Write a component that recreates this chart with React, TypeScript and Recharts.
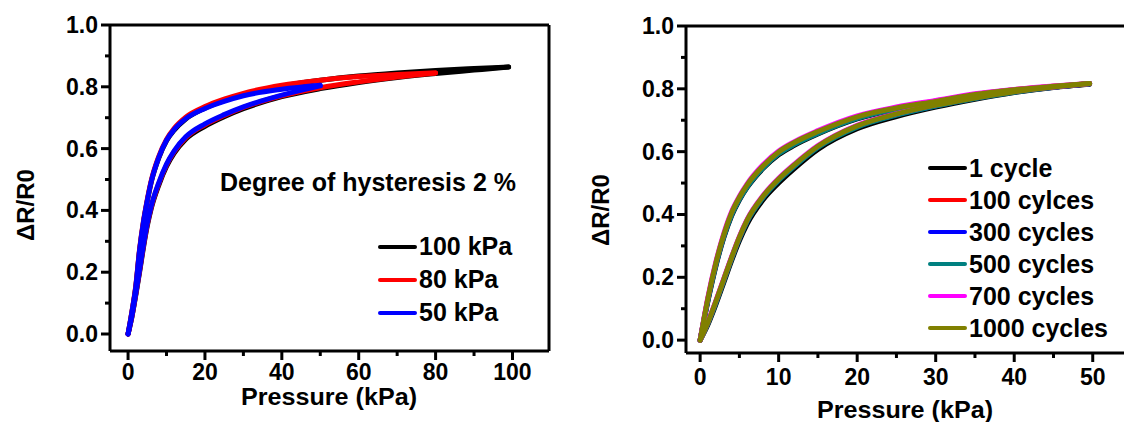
import { LineChart, Line, XAxis, YAxis, ReferenceLine } from 'recharts'

const font = '"Liberation Sans", Arial, sans-serif'

// left panel: loading / unloading loops for three max pressures
const p100 = [0, 1, 2, 3, 4, 5, 6, 8, 10, 12, 15, 20, 25, 30, 40, 50, 60, 70, 80, 90, 99]
const v100Load = [0, 0.055, 0.125, 0.2, 0.28, 0.35, 0.405, 0.482, 0.542, 0.585, 0.63, 0.672, 0.703, 0.729, 0.768, 0.794, 0.814, 0.83, 0.843, 0.854, 0.864]
const v100Unload = [0, 0.07, 0.15, 0.27, 0.36, 0.43, 0.49, 0.57, 0.625, 0.66, 0.696, 0.731, 0.755, 0.775, 0.802, 0.821, 0.835, 0.845, 0.853, 0.859, 0.864]

const p80 = [0, 1, 2, 3, 4, 5, 6, 8, 10, 12, 15, 20, 25, 30, 40, 50, 60, 70, 80]
const v80Load = [0, 0.057, 0.128, 0.205, 0.285, 0.355, 0.41, 0.487, 0.547, 0.59, 0.635, 0.677, 0.707, 0.733, 0.771, 0.797, 0.816, 0.832, 0.845]
const v80Unload = [0, 0.072, 0.155, 0.275, 0.365, 0.435, 0.495, 0.575, 0.63, 0.666, 0.702, 0.736, 0.76, 0.779, 0.805, 0.821, 0.833, 0.84, 0.845]

const p50 = [0, 1, 2, 3, 4, 5, 6, 8, 10, 12, 15, 20, 25, 30, 40, 50]
const v50Load = [0, 0.058, 0.13, 0.208, 0.288, 0.358, 0.413, 0.49, 0.55, 0.593, 0.638, 0.68, 0.71, 0.735, 0.773, 0.803]
const v50Unload = [0, 0.071, 0.152, 0.272, 0.362, 0.432, 0.492, 0.572, 0.627, 0.662, 0.697, 0.73, 0.753, 0.771, 0.792, 0.805]

// right panel: 50 kPa loops after repeated cycling
const pCyc = [0, 1, 2, 3, 4, 5, 6, 8, 10, 12, 15, 20, 25, 30, 35, 40, 45, 49.6]
const c1Load = [0, 0.05, 0.113, 0.182, 0.252, 0.316, 0.37, 0.446, 0.5, 0.546, 0.607, 0.673, 0.712, 0.742, 0.767, 0.788, 0.804, 0.815]
const c1Unload = [0, 0.125, 0.235, 0.325, 0.395, 0.446, 0.486, 0.546, 0.59, 0.62, 0.656, 0.704, 0.734, 0.756, 0.778, 0.794, 0.806, 0.815]
const c100Load = [0, 0.056, 0.122, 0.192, 0.262, 0.327, 0.382, 0.457, 0.512, 0.557, 0.617, 0.682, 0.72, 0.748, 0.772, 0.791, 0.806, 0.816]
const c100Unload = [0, 0.133, 0.243, 0.333, 0.403, 0.453, 0.493, 0.553, 0.598, 0.628, 0.663, 0.711, 0.74, 0.761, 0.782, 0.797, 0.808, 0.816]
const c300Load = [0, 0.055, 0.12, 0.19, 0.26, 0.325, 0.38, 0.455, 0.51, 0.555, 0.615, 0.68, 0.718, 0.746, 0.77, 0.79, 0.805, 0.816]
const c300Unload = [0, 0.13, 0.24, 0.33, 0.4, 0.45, 0.49, 0.55, 0.595, 0.625, 0.66, 0.708, 0.737, 0.758, 0.78, 0.795, 0.807, 0.816]
const c500Load = [0, 0.054, 0.118, 0.188, 0.258, 0.323, 0.378, 0.453, 0.508, 0.553, 0.613, 0.678, 0.716, 0.745, 0.769, 0.789, 0.805, 0.816]
const c500Unload = [0, 0.128, 0.238, 0.328, 0.398, 0.448, 0.488, 0.548, 0.593, 0.623, 0.658, 0.706, 0.736, 0.757, 0.779, 0.795, 0.807, 0.816]
const c700Load = [0, 0.059, 0.125, 0.195, 0.265, 0.33, 0.385, 0.46, 0.515, 0.56, 0.619, 0.684, 0.721, 0.749, 0.773, 0.792, 0.806, 0.817]
const c700Unload = [0, 0.138, 0.249, 0.339, 0.409, 0.458, 0.498, 0.558, 0.602, 0.632, 0.667, 0.714, 0.742, 0.763, 0.784, 0.798, 0.809, 0.817]
const c1000Load = [0, 0.057, 0.123, 0.193, 0.263, 0.328, 0.383, 0.458, 0.513, 0.558, 0.617, 0.682, 0.72, 0.748, 0.771, 0.791, 0.806, 0.817]
const c1000Unload = [0, 0.134, 0.245, 0.335, 0.405, 0.455, 0.495, 0.554, 0.599, 0.629, 0.664, 0.711, 0.739, 0.76, 0.782, 0.797, 0.808, 0.817]

const leftXTicks = [0, 10, 20, 30, 40, 50, 60, 70, 80, 90, 100]
const leftXMajor = [0, 20, 40, 60, 80, 100]
const rightXTicks = [0, 5, 10, 15, 20, 25, 30, 35, 40, 45, 50]
const rightXMajor = [0, 10, 20, 30, 40, 50]
const yTicks = [0, 0.1, 0.2, 0.3, 0.4, 0.5, 0.6, 0.7, 0.8, 0.9, 1.0]

const toPts = (ps: number[], vs: number[]) => ps.map((p, i) => ({ p, v: vs[i] }))

const leftSeries = [
  { name: '100 kPa', color: '#000000', load: toPts(p100, v100Load), unload: toPts(p100, v100Unload) },
  { name: '80 kPa', color: '#ff0000', load: toPts(p80, v80Load), unload: toPts(p80, v80Unload) },
  { name: '50 kPa', color: '#0000ff', load: toPts(p50, v50Load), unload: toPts(p50, v50Unload) },
]

const rightSeries = [
  { name: '1 cycle', color: '#000000', load: toPts(pCyc, c1Load), unload: toPts(pCyc, c1Unload) },
  { name: '100 cylces', color: '#ff0000', load: toPts(pCyc, c100Load), unload: toPts(pCyc, c100Unload) },
  { name: '300 cycles', color: '#0000ff', load: toPts(pCyc, c300Load), unload: toPts(pCyc, c300Unload) },
  { name: '500 cycles', color: '#008080', load: toPts(pCyc, c500Load), unload: toPts(pCyc, c500Unload) },
  { name: '700 cycles', color: '#ff00ff', load: toPts(pCyc, c700Load), unload: toPts(pCyc, c700Unload) },
  { name: '1000 cycles', color: '#808000', load: toPts(pCyc, c1000Load), unload: toPts(pCyc, c1000Unload) },
]

const txt = { fontFamily: font, fontWeight: 700, fill: '#000' }

function XTick(props: any) {
  const { x, y, payload, majors, labelDy } = props
  const major = majors.includes(payload.value)
  return (
    <g>
      <line x1={x} y1={y} x2={x} y2={y + (major ? 9 : 5)} stroke="#000" strokeWidth={3} />
      {major && (
        <text x={x} y={y + labelDy} textAnchor="middle" fontSize={23} {...txt}>
          {payload.value}
        </text>
      )}
    </g>
  )
}

function YTick(props: any) {
  const { x, y, payload } = props
  const major = Math.round(payload.value * 10) % 2 === 0
  return (
    <g>
      <line x1={x} y1={y} x2={x - (major ? 9 : 5)} y2={y} stroke="#000" strokeWidth={3} />
      {major && (
        <text x={x - 12} y={y + 8} textAnchor="end" fontSize={23} {...txt}>
          {payload.value.toFixed(1)}
        </text>
      )}
    </g>
  )
}

const yTitle = (cx: number, cy: number) => () => (
  <text x={cx} y={cy} transform={`rotate(-90 ${cx} ${cy})`} textAnchor="middle" dy={8} fontSize={24} {...txt}>
    ΔR/R0
  </text>
)

const xTitle = (cx: number, base: number) => () => (
  <text x={cx} y={base} textAnchor="middle" fontSize={24} textLength={176} lengthAdjust="spacingAndGlyphs" {...txt}>
    Pressure (kPa)
  </text>
)

function loops(series: typeof leftSeries) {
  return series.flatMap((s) => [
    <Line key={s.name + 'l'} data={s.load} dataKey="v" type="monotone" stroke={s.color} strokeWidth={5}
      strokeLinecap="round" dot={false} activeDot={false} isAnimationActive={false} />,
    <Line key={s.name + 'u'} data={s.unload} dataKey="v" type="monotone" stroke={s.color} strokeWidth={5}
      strokeLinecap="round" dot={false} activeDot={false} isAnimationActive={false} />,
  ])
}

function LeftChart() {
  return (
    <LineChart width={560} height={422} margin={{ top: 25, right: 11, bottom: 0, left: 0 }}>
      <XAxis dataKey="p" type="number" domain={[-4.7, 109.5]} allowDataOverflow ticks={leftXTicks} interval={0}
        height={71} tickSize={0} tickMargin={0} tickLine={false} axisLine={{ stroke: '#000', strokeWidth: 3 }}
        tick={(p: any) => <XTick {...p} majors={leftXMajor} labelDy={29} />}
        label={{ content: xTitle(329, 405) }} />
      <YAxis type="number" domain={[-0.055, 1]} allowDataOverflow ticks={yTicks} interval={0}
        width={110} tickSize={0} tickMargin={0} tickLine={false} axisLine={{ stroke: '#000', strokeWidth: 3 }}
        tick={(p: any) => <YTick {...p} />}
        label={{ content: yTitle(26, 205) }} />
      <ReferenceLine y={1} stroke="#000" strokeWidth={3} />
      <ReferenceLine x={109.5} stroke="#000" strokeWidth={3} />
      {loops(leftSeries)}
    </LineChart>
  )
}

function RightChart() {
  return (
    <LineChart width={570} height={422} margin={{ top: 26, right: 8, bottom: 0, left: 0 }}>
      <XAxis dataKey="p" type="number" domain={[-1.8, 55]} allowDataOverflow ticks={rightXTicks} interval={0}
        height={69} tickSize={0} tickMargin={0} tickLine={false} axisLine={{ stroke: '#000', strokeWidth: 3 }}
        tick={(p: any) => <XTick {...p} majors={rightXMajor} labelDy={32} />}
        label={{ content: xTitle(335, 418) }} />
      <YAxis type="number" domain={[-0.041, 1]} allowDataOverflow ticks={yTicks} interval={0}
        width={116} tickSize={0} tickMargin={0} tickLine={false} axisLine={{ stroke: '#000', strokeWidth: 3 }}
        tick={(p: any) => <YTick {...p} />}
        label={{ content: yTitle(31, 210) }} />
      <ReferenceLine y={1} stroke="#000" strokeWidth={3} />
      {loops(rightSeries)}
    </LineChart>
  )
}

function LegendBox({ items, left, top, rowH }: { items: { name: string; color: string }[]; left: number; top: number; rowH: number }) {
  return (
    <div style={{ position: 'absolute', left, top }}>
      {items.map((s) => (
        <div key={s.name} style={{ display: 'flex', alignItems: 'center', height: rowH, fontSize: 25, fontWeight: 700, whiteSpace: 'nowrap' }}>
          <span style={{ width: 39, height: 4, background: s.color, marginRight: 2, borderRadius: 2 }} />
          {s.name}
        </div>
      ))}
    </div>
  )
}

export default function App() {
  return (
    <div style={{ position: 'absolute', left: 0, top: 0, width: 1124, height: 422, overflow: 'hidden', background: '#fff', fontFamily: font, color: '#000' }}>
      <div style={{ position: 'absolute', left: 0, top: 0 }}>
        <LeftChart />
      </div>
      <div style={{ position: 'absolute', left: 570, top: 0 }}>
        <RightChart />
      </div>
      <div style={{ position: 'absolute', left: 220, top: 170, fontSize: 25, lineHeight: '25px', fontWeight: 700, whiteSpace: 'nowrap' }}>
        Degree of hysteresis 2 %
      </div>
      <LegendBox items={leftSeries} left={378} top={230} rowH={33} />
      <LegendBox items={rightSeries} left={928} top={152} rowH={32} />
    </div>
  )
}
